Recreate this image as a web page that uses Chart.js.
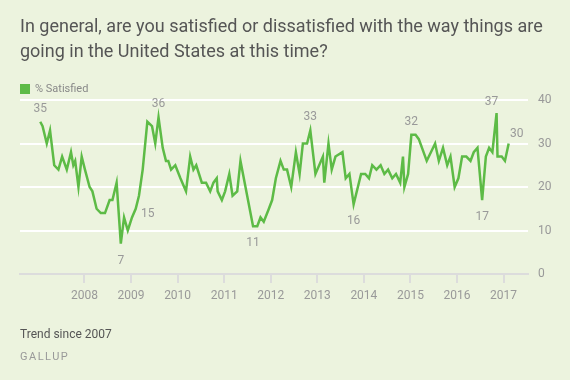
<!DOCTYPE html>
<html>
<head>
<meta charset="utf-8">
<script src="https://cdn.jsdelivr.net/npm/chart.js@4"></script>
<style>
html, body { margin: 0; padding: 0; background: #ecf3de; }
#wrap { position: relative; width: 570px; height: 380px; font-family: Roboto, sans-serif; }
#title { position: absolute; left: 20px; top: 13px; width: 545px; font-size: 18px; line-height: 25px; color: #555; }
#legend { position: absolute; left: 20px; top: 82px; font-size: 11px; color: #888; display: flex; align-items: center; }
#legend .box { width: 10px; height: 10px; background: #5dbb46; margin-right: 5px; }
#note { position: absolute; left: 20px; top: 327px; font-size: 12px; color: #555; }
#source { position: absolute; left: 20px; top: 350px; font-size: 11px; color: #999; letter-spacing: 1.5px; }
canvas { position: absolute; left: 0; top: 0; }
</style>
</head>
<body>
<div id="wrap">
  <canvas id="chart" width="570" height="380"></canvas>
  <div id="title">In general, are you satisfied or dissatisfied with the way things are going in the United States at this time?</div>
  <div id="legend"><span class="box"></span>% Satisfied</div>
  <div id="note">Trend since 2007</div>
  <div id="source">GALLUP</div>
</div>
<script>
// poll dates (decimal years) and % satisfied
const dates = [
  2007.05, 2007.10, 2007.19, 2007.26, 2007.35, 2007.44, 2007.52, 2007.62, 2007.71, 2007.76,
  2007.80, 2007.87, 2007.94, 2008.01, 2008.11, 2008.17, 2008.26, 2008.35, 2008.44, 2008.54,
  2008.60, 2008.69, 2008.78, 2008.85, 2008.93, 2009.02, 2009.10, 2009.17, 2009.25, 2009.35,
  2009.45, 2009.52, 2009.59, 2009.68, 2009.75, 2009.80, 2009.86, 2009.95, 2010.06, 2010.18,
  2010.27, 2010.34, 2010.40, 2010.52, 2010.61, 2010.70, 2010.77, 2010.84, 2010.86, 2010.95,
  2011.02, 2011.11, 2011.18, 2011.28, 2011.35, 2011.62, 2011.71, 2011.78, 2011.85, 2011.96,
  2012.03, 2012.11, 2012.21, 2012.28, 2012.35, 2012.44, 2012.54, 2012.62, 2012.69, 2012.78,
  2012.85, 2012.96, 2013.12, 2013.15, 2013.24, 2013.31, 2013.39, 2013.54, 2013.61, 2013.69,
  2013.78, 2013.94, 2014.03, 2014.11, 2014.18, 2014.27, 2014.36, 2014.44, 2014.52, 2014.61,
  2014.69, 2014.78, 2014.84, 2014.87, 2014.95, 2015.02, 2015.11, 2015.18, 2015.35, 2015.44,
  2015.53, 2015.61, 2015.70, 2015.79, 2015.86, 2015.95, 2016.03, 2016.11, 2016.20, 2016.29,
  2016.36, 2016.44, 2016.54, 2016.62, 2016.69, 2016.76, 2016.85, 2016.87, 2016.96, 2017.03,
  2017.11
];
const satisfied = [
  35, 34, 30, 33, 25, 24, 27, 24, 28, 25,
  26, 20, 27, 24, 20, 19, 15, 14, 14, 17,
  17, 21, 7, 13, 10, 13, 15, 18, 24, 35,
  34, 30, 36, 29, 26, 26, 24, 25, 22, 19,
  27, 24, 25, 21, 21, 19, 21, 22, 19, 17,
  19, 23, 18, 19, 26, 11, 11, 13, 12, 15,
  17, 22, 26, 24, 24, 20, 28, 23, 30, 30,
  33, 23, 27, 21, 30, 24, 27, 28, 22, 23,
  16, 23, 23, 22, 25, 24, 25, 23, 24, 22,
  23, 21, 27, 20, 23, 32, 32, 31, 26, 28,
  30, 26, 29, 25, 27, 20, 22, 27, 27, 26,
  28, 29, 17, 27, 29, 28, 37, 27, 27, 26,
  30
];
const yearTicks = [2008, 2009, 2010, 2011, 2012, 2013, 2014, 2015, 2016, 2017];
const valueTicks = [0, 10, 20, 30, 40];
// points that carry a number next to them
const calloutDates = [2007.05, 2008.78, 2009.10, 2009.59, 2011.62, 2012.85, 2013.78, 2015.02, 2016.54, 2016.85, 2017.11];

const green = '#5dbb46';
Chart.defaults.font.family = 'Roboto, sans-serif';

// where each callout sits relative to its point
function calloutOffset(value, i) {
  if (i === dates.length - 1) return [8, -10];
  if (value === 15) return [12, 5];
  if (value === 37) return [-5, -11];
  const prev = satisfied[i - 1], next = satisfied[i + 1];
  const low = (prev === undefined || value < prev) && (next === undefined || value <= next);
  return low ? [0, 17] : [0, -13];
}

const callouts = {
  id: 'callouts',
  afterDatasetsDraw(chart) {
    const ctx = chart.ctx;
    const meta = chart.getDatasetMeta(0);
    ctx.save();
    ctx.font = '12px Roboto, sans-serif';
    ctx.fillStyle = '#999';
    ctx.textAlign = 'center';
    ctx.textBaseline = 'middle';
    calloutDates.forEach((d) => {
      const i = dates.indexOf(d);
      if (i < 0) return;
      const pt = meta.data[i];
      const [dx, dy] = calloutOffset(satisfied[i], i);
      ctx.fillText(String(satisfied[i]), pt.x + dx, pt.y + dy);
    });
    ctx.restore();
  }
};

new Chart(document.getElementById('chart'), {
  type: 'line',
  data: {
    datasets: [{
      data: dates.map((d, i) => ({ x: d, y: satisfied[i] })),
      borderColor: green,
      borderWidth: 2.5,
      pointRadius: 0,
      tension: 0,
      fill: false
    }]
  },
  options: {
    responsive: false,
    animation: false,
    layout: { padding: { left: 20, right: 0, top: 100, bottom: 66 } },
    plugins: { legend: { display: false }, tooltip: { enabled: false } },
    scales: {
      x: {
        type: 'linear',
        min: 2006.615,
        max: 2017.525,
        afterBuildTicks: (s) => { s.ticks = yearTicks.map(v => ({ value: v })); },
        afterFit: (s) => { s.height = 40; },
        grid: { drawOnChartArea: false, drawTicks: true, tickLength: 9, color: '#dcdcdc', lineWidth: 2 },
        border: { display: true, color: '#dcdcdc', width: 2 },
        ticks: { color: '#999', font: { size: 12 }, padding: 6, maxRotation: 0, autoSkip: false, callback: v => String(v) }
      },
      y: {
        position: 'right',
        min: 0,
        max: 40,
        afterBuildTicks: (s) => { s.ticks = valueTicks.map(v => ({ value: v })); },
        afterFit: (s) => { s.width = 42; },
        grid: { color: c => (c.tick && c.tick.value === 0 ? 'rgba(0,0,0,0)' : '#ffffff'), lineWidth: 2, drawTicks: false },
        border: { display: false },
        ticks: { color: '#999', font: { size: 12 }, padding: 10 }
      }
    }
  },
  plugins: [callouts]
});
</script>
</body>
</html>
